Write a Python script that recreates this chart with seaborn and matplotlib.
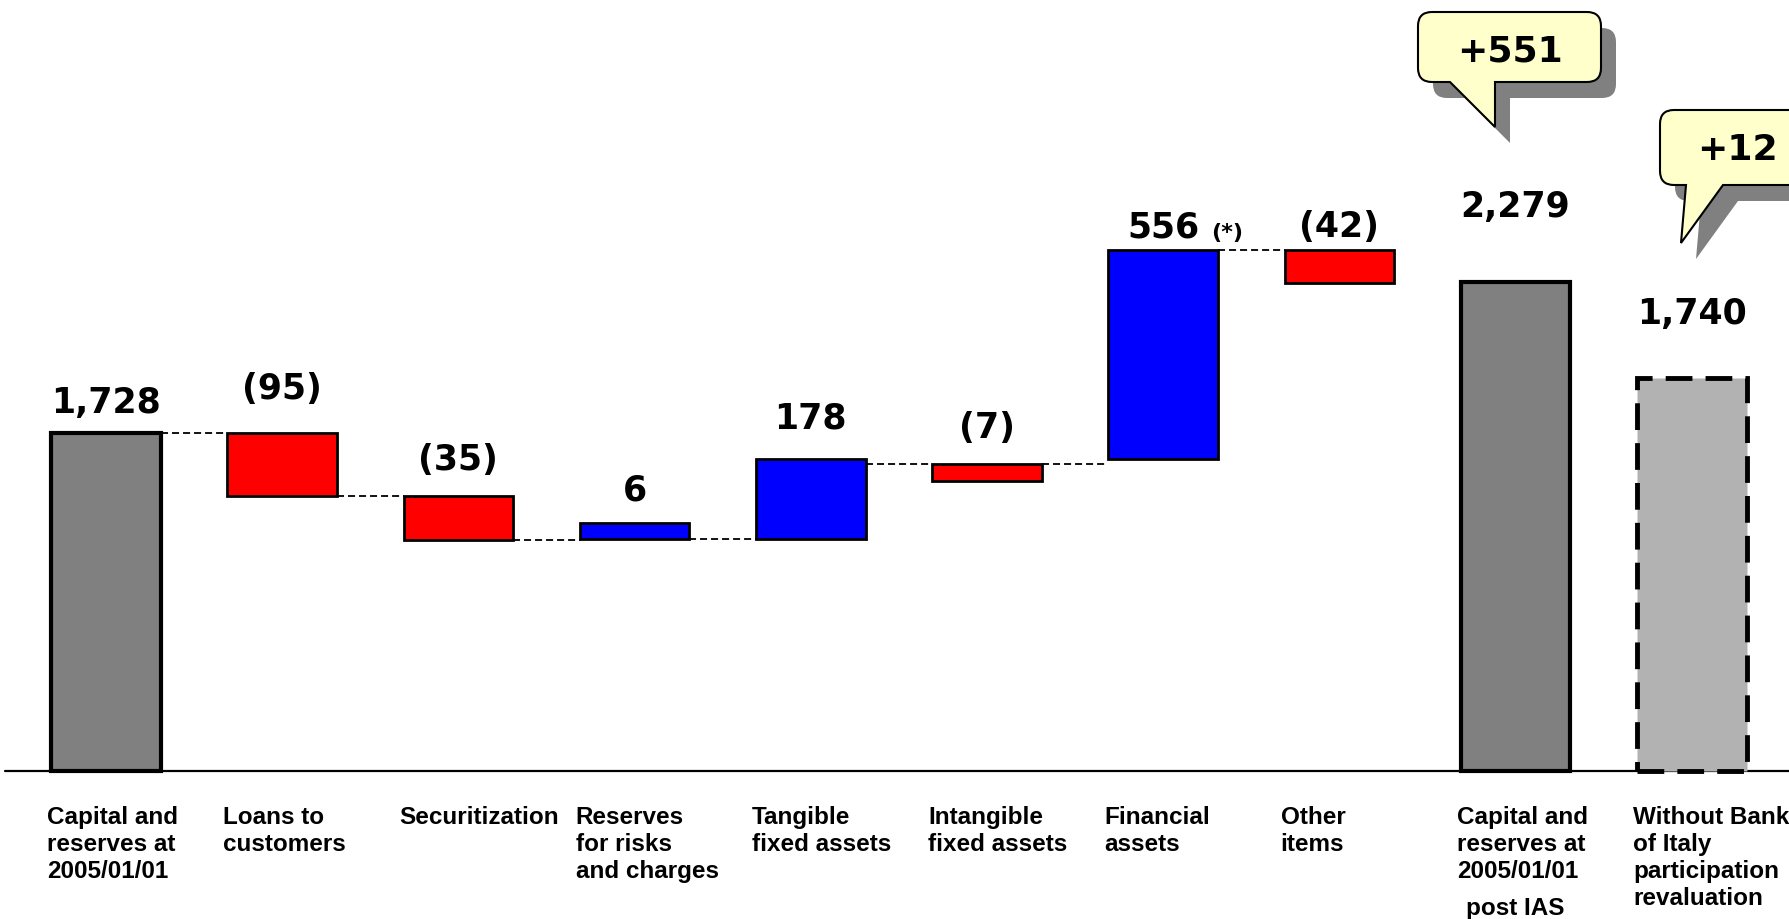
import matplotlib
matplotlib.use('Agg')

import numpy as np
import pandas as pd
import seaborn as sns

from matplotlib import pyplot as plt
from matplotlib.path import Path
from matplotlib.patches import PathPatch

# ---- data -------------------------------------------------------------
steps = ['open', 'loans', 'securitization', 'reserves', 'tangible',
         'intangible', 'financial', 'other', 'close', 'close_ex_boi']
step_labels = ['Capital and\nreserves at\n2005/01/01',
               'Loans to\ncustomers',
               'Securitization',
               'Reserves\nfor risks\nand charges',
               'Tangible\nfixed assets',
               'Intangible\nfixed assets',
               'Financial\nassets',
               'Other\nitems',
               'Capital and\nreserves at\n2005/01/01',
               'Without Bank\nof Italy\nparticipation\nrevaluation']
values = [1728, -95, -35, 6, 178, -7, 556, -42, 2279, 1740]
kinds = ['total', 'change', 'change', 'change', 'change',
         'change', 'change', 'change', 'total', 'pro_forma']

# the slide is not drawn to scale: bar extents as they appear on it
bar_bottom = [0, 1406, 1181, 1188, 1188, 1480, 1597, 2495, 0, 0]
bar_top = [1728, 1728, 1406, 1270, 1597, 1567, 2663, 2663, 2500, 2011]
link_level = [1728, 1406, 1181, 1188, 1567, 1567, 2663]

callout_text = ['+551', '+12']
note_text = '(*)'
sub_label = 'post IAS'

# ---- layout (pixels of the 1789x919 slide) ----------------------------
FIG_W, FIG_H = 1789, 919
BASE_PX = 771
UNITS_PER_PX = 5.112
FIRST_PX, SLOT_PX = 106, 176.2
BAR_W = 0.622
label_gap_px = [20, 34, 26, 22, 30, 26, 13, 13, 65, 54]

colors = {'total': '#808080', 'pro_forma': '#b2b2b2'}
bubbles = [dict(x0=1418, y0=12, x1=1601, y1=82, r=14, tl=1450, tr=1495, tip=(1495, 127), txt=(1510, 62)),
           dict(x0=1660, y0=110, x1=1850, y1=185, r=14, tl=1686, tr=1723, tip=(1681, 243), txt=(1737, 160))]
SHADOW = (15, 16)


def fmt(v, kind):
    if kind == 'change':
        return f'({abs(v)})' if v < 0 else f'{v}'
    return f'{v:,}'


def bubble_path(b, dx=0, dy=0):
    x0, y0, x1, y1, r = b['x0'] + dx, b['y0'] + dy, b['x1'] + dx, b['y1'] + dy, b['r']
    tip = (b['tip'][0] + dx, b['tip'][1] + dy)
    verts = [(x0 + r, y0), (x1 - r, y0), (x1, y0), (x1, y0 + r), (x1, y1 - r), (x1, y1), (x1 - r, y1),
             (b['tr'] + dx, y1), tip, (b['tl'] + dx, y1), (x0 + r, y1), (x0, y1), (x0, y1 - r),
             (x0, y0 + r), (x0, y0), (x0 + r, y0), (x0 + r, y0)]
    codes = [Path.MOVETO, Path.LINETO, Path.CURVE3, Path.CURVE3, Path.LINETO, Path.CURVE3, Path.CURVE3,
             Path.LINETO, Path.LINETO, Path.LINETO, Path.LINETO, Path.CURVE3, Path.CURVE3,
             Path.LINETO, Path.CURVE3, Path.CURVE3, Path.CLOSEPOLY]
    return Path(verts, codes)


def main():
    sns.set_style('white')
    plt.rcParams['font.family'] = ['DejaVu Sans']
    plt.rcParams['text.color'] = 'black'

    bar_colors = {}
    for s, v, k in zip(steps, values, kinds):
        if k == 'change':
            bar_colors[s] = '#ff0000' if v < 0 else '#0000ff'
        else:
            bar_colors[s] = colors[k]

    df = pd.DataFrame({'step': steps,
                       'height': np.subtract(bar_top, bar_bottom),
                       'bottom': bar_bottom})

    fig = plt.figure(figsize=(FIG_W / 100, FIG_H / 100), dpi=100)
    ax = fig.add_axes([0, 0, 1, 1])

    sns.barplot(data=df, x='step', y='height', hue='step', palette=bar_colors,
                width=BAR_W, saturation=1, legend=False, ax=ax,
                edgecolor='black', linewidth=2, zorder=3)

    for p, b, k in zip(ax.patches, bar_bottom, kinds):
        p.set_y(b)
        p.set_joinstyle('miter')
        if k == 'total':
            p.set_linewidth(3)
        elif k == 'pro_forma':
            p.set_linewidth(3.5)
            p.set_linestyle((0, (5.5, 2.7)))

    ax.set_xlim(-FIRST_PX / SLOT_PX, (FIG_W - FIRST_PX) / SLOT_PX)
    ax.set_ylim(-(FIG_H - BASE_PX) * UNITS_PER_PX, BASE_PX * UNITS_PER_PX)
    ax.set_axis_off()

    ax.axhline(0, xmin=5 / FIG_W, xmax=1, color='black', lw=1.6, zorder=2)

    # dashed links between consecutive bars
    for i, lvl in enumerate(link_level):
        ax.hlines(lvl, i + BAR_W / 2, i + 1 - BAR_W / 2, colors='black',
                  linestyles=(0, (3.9, 2.2)), linewidth=1.3, zorder=2)

    for i, (v, k) in enumerate(zip(values, kinds)):
        ax.annotate(fmt(v, k), xy=(i, bar_top[i]), xytext=(0, label_gap_px[i]),
                    textcoords='offset pixels', ha='center', va='baseline',
                    fontsize=25, fontweight='bold')
    ax.annotate(note_text, xy=(6, bar_top[6]), xytext=(48, 11), textcoords='offset pixels',
                ha='left', va='baseline', fontsize=16, fontweight='bold')

    for i, lab in enumerate(step_labels):
        ax.annotate(lab, xy=(i - BAR_W / 2, -179), xytext=(-4, 0), textcoords='offset pixels',
                    ha='left', va='top', fontsize=17.5, fontweight='bold',
                    family='Liberation Sans', linespacing=1.22)
    ax.text(8, -(915 - BASE_PX) * UNITS_PER_PX, sub_label, ha='center', va='baseline',
            fontsize=17.5, fontweight='bold', family='Liberation Sans')

    # speech-bubble callouts, drawn in slide pixels
    ov = fig.add_axes([0, 0, 1, 1])
    ov.set_xlim(0, FIG_W)
    ov.set_ylim(FIG_H, 0)
    ov.set_axis_off()
    ov.patch.set_visible(False)
    for b, t in zip(bubbles, callout_text):
        ov.add_patch(PathPatch(bubble_path(b, *SHADOW), facecolor='#808080', edgecolor='none', zorder=1))
        ov.add_patch(PathPatch(bubble_path(b), facecolor='#ffffcc', edgecolor='black',
                               linewidth=1.5, zorder=2))
        ov.text(b['txt'][0], b['txt'][1], t, ha='center', va='baseline',
                fontsize=26, fontweight='bold', zorder=3)

    fig.savefig('out.png', dpi=100)


if __name__ == '__main__':
    main()
